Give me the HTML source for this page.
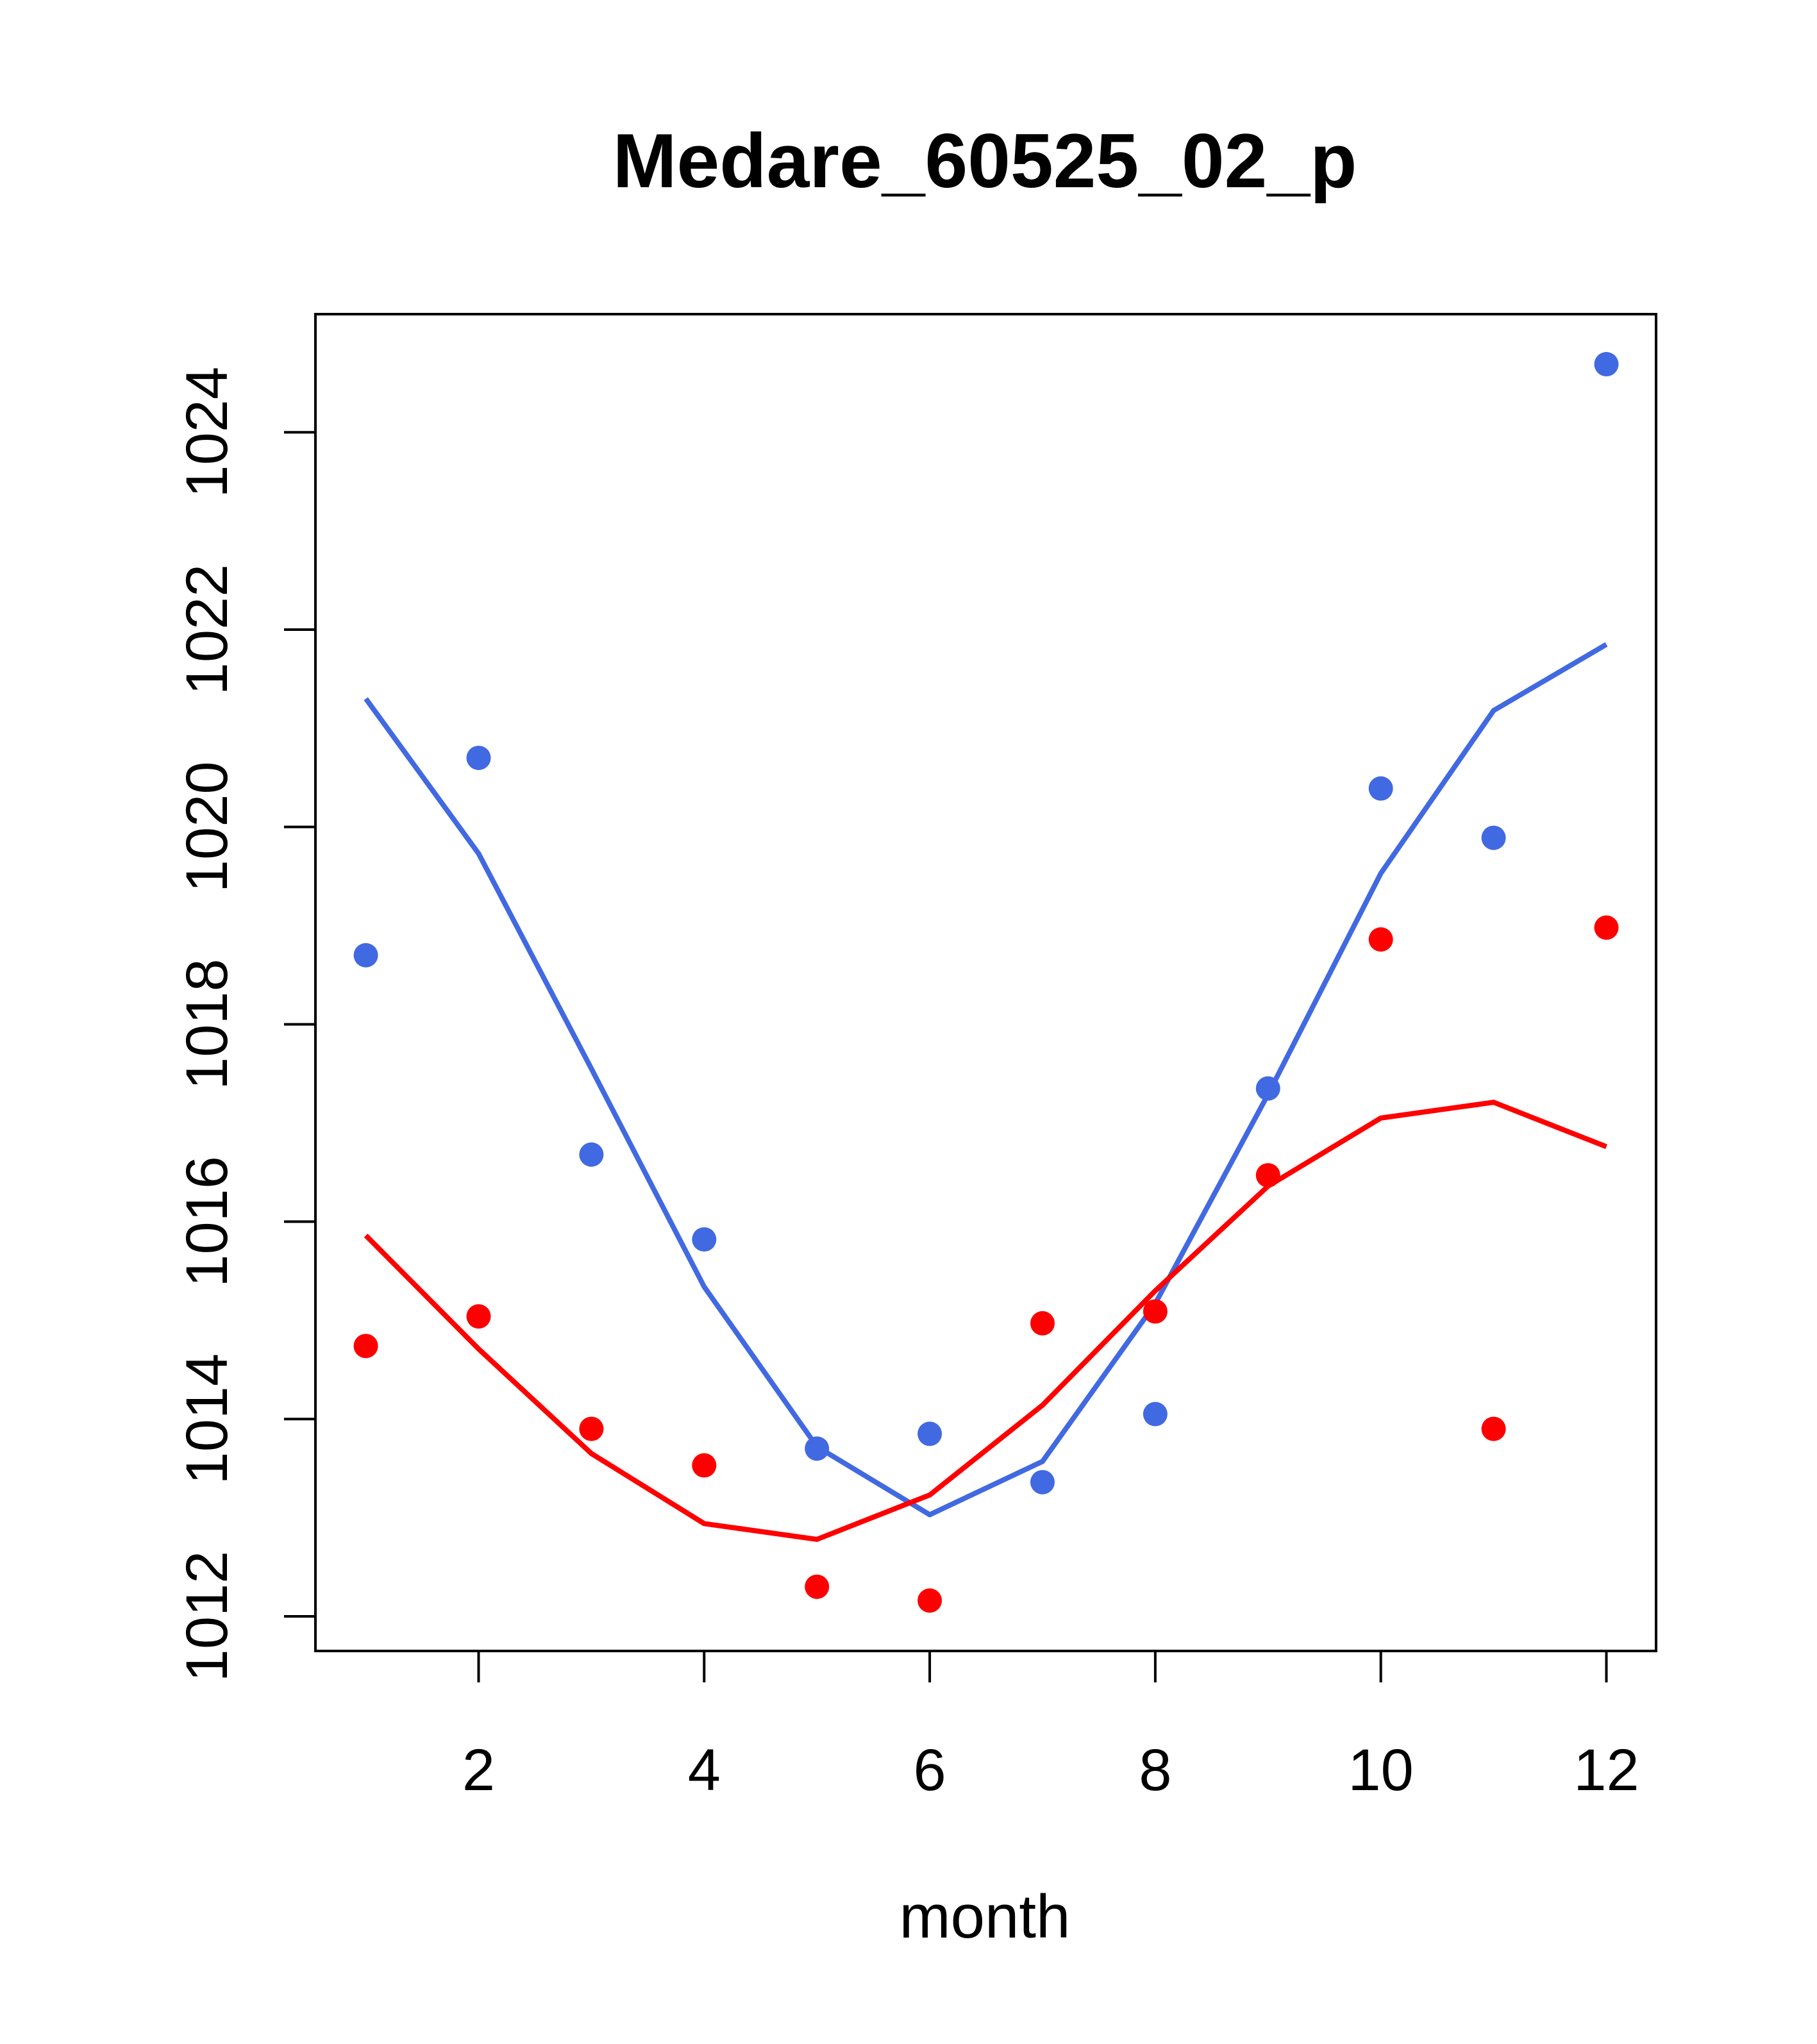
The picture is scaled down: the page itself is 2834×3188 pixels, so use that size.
<!DOCTYPE html>
<html><head><meta charset="utf-8">
<style>html,body{margin:0;padding:0;background:#fff;}svg{display:block;}</style>
</head><body>
<svg id="chart" width="2834" height="3188" viewBox="0 0 2834 3188" xmlns="http://www.w3.org/2000/svg" font-family="Liberation Sans, sans-serif">
<rect x="0" y="0" width="2834" height="3188" fill="#fff"/>
<text x="1536" y="292" font-size="120" font-weight="bold" text-anchor="middle">Medare_60525_02_p</text>
<rect x="492" y="490" width="2091" height="2085" fill="none" stroke="#000" stroke-width="4"/>
<text x="1536" y="3022" font-size="96" text-anchor="middle">month</text>
<g id="xaxis"></g>
<g id="yaxis"></g>
<g id="series"></g>
</svg>
<script>
const months = [1,2,3,4,5,6,7,8,9,10,11,12];
const bluePoints = [1018.70,1020.70,1016.68,1015.82,1013.70,1013.85,1013.36,1014.05,1017.35,1020.39,1019.89,1024.69];
const blueLine = [1021.30,1019.73,1017.55,1015.34,1013.72,1013.03,1013.57,1015.17,1017.29,1019.53,1021.18,1021.85];
const redPoints = [1014.74,1015.04,1013.90,1013.53,1012.30,1012.16,1014.97,1015.09,1016.47,1018.86,1013.90,1018.98];
const redLine = [1015.86,1014.71,1013.65,1012.94,1012.78,1013.23,1014.14,1015.30,1016.36,1017.05,1017.21,1016.76];
const xTicks = [2,4,6,8,10,12];
const yTicks = [1012,1014,1016,1018,1020,1022,1024];

const NS = "http://www.w3.org/2000/svg";
function xs(m){ return 570.6 + (m-1)*175.9; }
function ys(v){ return 2521 - (v-1012)*153.9; }
function mk(tag, attrs, parent){
  const e = document.createElementNS(NS, tag);
  for (const k in attrs) e.setAttribute(k, attrs[k]);
  parent.appendChild(e); return e;
}
const xg = document.getElementById('xaxis');
xTicks.forEach(t=>{
  const l = mk('line',{x1:xs(t),x2:xs(t),y1:2575,y2:2624,stroke:'#000','stroke-width':4},xg);
  
  
  const tx = mk('text',{x:xs(t),y:2792,'font-size':92,'text-anchor':'middle'},xg);
  
  
  tx.textContent = t;
});
const yg = document.getElementById('yaxis');
yTicks.forEach(t=>{
  const l = mk('line',{x1:443,x2:492,y1:ys(t),y2:ys(t),stroke:'#000','stroke-width':4},yg);
  
  
  const tx = mk('text',{x:0,y:0,'font-size':92,'text-anchor':'middle',transform:'translate(354,'+ys(t)+') rotate(-90)'},yg);
  
  
  tx.textContent = t;
});
const sg = document.getElementById('series');
function drawLine(vals, color, name){
  const p = mk('polyline',{points:vals.map((v,i)=>xs(months[i])+','+ys(v)).join(' '),fill:'none',stroke:color,'stroke-width':8,'stroke-linejoin':'round'},sg);
  
  
}
function drawPts(vals, color, name){
  vals.forEach((v,i)=>{
    const c = mk('circle',{cx:xs(months[i]),cy:ys(v),r:19,fill:color},sg);
    
    
  });
}
drawLine(blueLine,'#4169E1','blue-line');
drawLine(redLine,'#FF0000','red-line');
drawPts(bluePoints,'#4169E1','blue-point');
drawPts(redPoints,'#FF0000','red-point');
</script>
</body></html>
